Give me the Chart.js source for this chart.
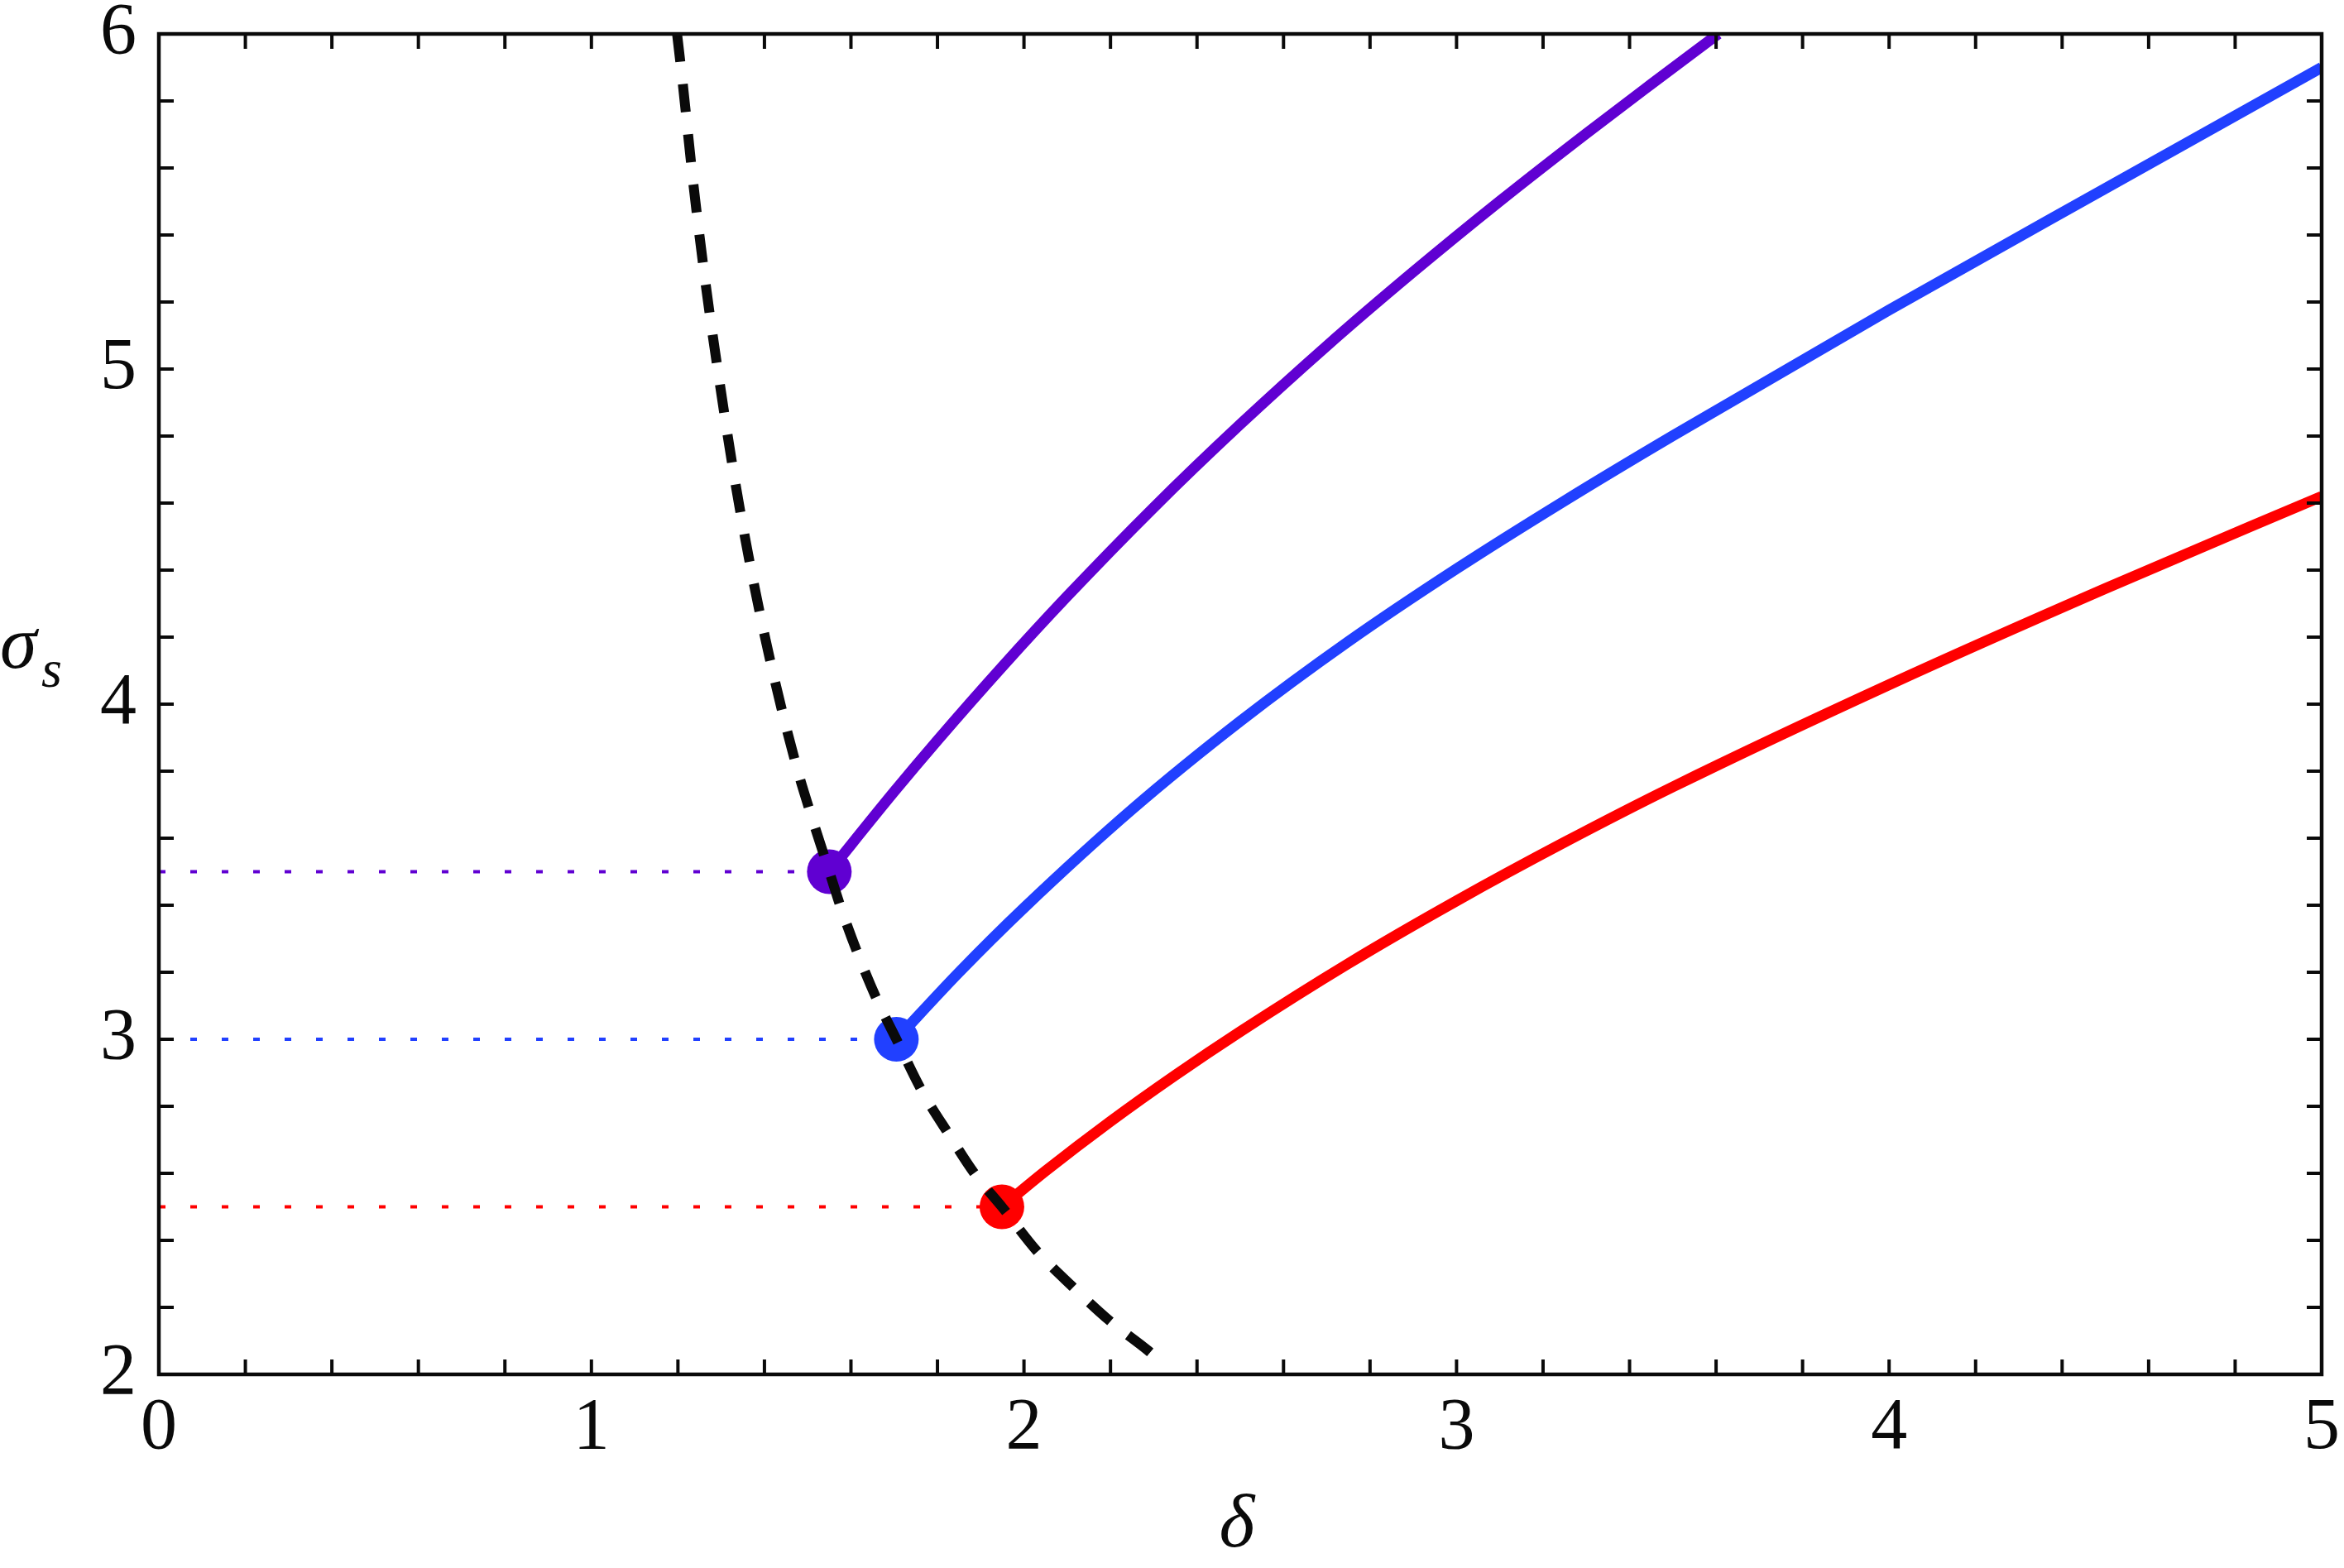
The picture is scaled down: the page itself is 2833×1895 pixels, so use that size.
<!DOCTYPE html>
<html>
<head>
<meta charset="utf-8">
<script src="https://cdn.jsdelivr.net/npm/chart.js@4/dist/chart.umd.min.js"></script>
<style>
  html, body { margin: 0; padding: 0; background: #ffffff; }
  #wrap { width: 2833px; height: 1895px; position: relative; }
</style>
</head>
<body>
<div id="wrap"><canvas id="c" width="2833" height="1895"></canvas></div>
<script>
// ---- data ----
const boundaryDelta = [1.198, 1.211, 1.235, 1.263, 1.295, 1.330, 1.371, 1.419, 1.475, 1.507, 1.550, 1.578, 1.618, 1.663, 1.705, 1.764, 1.825, 1.887, 1.949, 2.032, 2.112, 2.197, 2.287, 2.311];
const boundarySigma = [6.0, 5.854, 5.56, 5.264, 4.972, 4.681, 4.389, 4.098, 3.81, 3.673, 3.5, 3.388, 3.248, 3.11, 3.0, 2.846, 2.719, 2.597, 2.5, 2.365, 2.262, 2.161, 2.071, 2.044];

const purpleDelta = [1.55, 1.70, 1.80, 1.95, 2.10, 2.30, 2.50, 2.70, 2.90, 3.10, 3.30, 3.45, 3.605];
const purpleSigma = [3.5, 3.739, 3.892, 4.112, 4.322, 4.587, 4.835, 5.069, 5.29, 5.501, 5.703, 5.85, 6.0];

const blueDelta = [1.705, 1.85, 2.0, 2.25, 2.5, 2.75, 3.0, 3.25, 3.5, 4.0, 4.5, 5.0];
const blueSigma = [3.0, 3.20, 3.392, 3.686, 3.949, 4.187, 4.404, 4.607, 4.801, 5.176, 5.539, 5.90];

const redDelta = [1.949, 2.05, 2.2, 2.35, 2.5, 2.75, 3.0, 3.25, 3.5, 4.0, 4.5, 5.0];
const redSigma = [2.5, 2.607, 2.755, 2.893, 3.023, 3.226, 3.413, 3.588, 3.753, 4.058, 4.345, 4.62];

const criticalDelta = [1.55, 1.705, 1.949];
const criticalSigma = [3.5, 3.0, 2.5];

const xTickLabels = [0, 1, 2, 3, 4, 5];
const yTickLabels = [2, 3, 4, 5, 6];
const xMinorStep = 0.2;
const yMinorStep = 0.2;

// ---- styling ----
const PURPLE = '#6000d2';
const BLUE = '#2140ff';
const RED = '#ff0000';
const curveColors = [PURPLE, BLUE, RED];
const SERIF = '"Liberation Serif", "Times New Roman", Times, serif';

function pts(xs, ys) { return xs.map((x, i) => ({ x: x, y: ys[i] })); }

const datasets = [];
// dotted guide lines (drawn first)
criticalDelta.forEach((d, i) => {
  datasets.push({
    data: [{ x: xTickLabels[0], y: criticalSigma[i] }, { x: d, y: criticalSigma[i] }],
    showLine: true, borderColor: curveColors[i], borderWidth: 4,
    borderDash: [8, 30], pointRadius: 0, order: 4
  });
});
// coloured curves
[[purpleDelta, purpleSigma], [blueDelta, blueSigma], [redDelta, redSigma]].forEach((c, i) => {
  datasets.push({
    data: pts(c[0], c[1]), showLine: true, borderColor: curveColors[i],
    borderWidth: 13, cubicInterpolationMode: 'monotone', pointRadius: 0, order: 3
  });
});
// critical points
datasets.push({
  data: pts(criticalDelta, criticalSigma), showLine: false,
  pointRadius: 27, pointBackgroundColor: curveColors, pointBorderWidth: 0, order: 2
});
// dashed boundary on top
datasets.push({
  data: pts(boundaryDelta, boundarySigma), showLine: true, borderColor: '#0a0a0a',
  borderWidth: 12, borderDash: [34, 27], borderCapStyle: 'butt',
  cubicInterpolationMode: 'monotone', pointRadius: 0, order: 1
});

const frameTicks = {
  id: 'frameTicks',
  afterDatasetsDraw(chart) {
    const { ctx, chartArea: a, scales } = chart;
    const xs = scales.x, ys = scales.y;
    ctx.save();
    ctx.strokeStyle = '#0a0a0a';
    ctx.lineCap = 'butt';
    ctx.lineWidth = 4;
    const tl = 18;
    const nx = Math.round((xs.max - xs.min) / xMinorStep);
    for (let k = 0; k <= nx; k++) {
      const px = xs.getPixelForValue(xs.min + k * xMinorStep);
      ctx.beginPath();
      ctx.moveTo(px, a.bottom); ctx.lineTo(px, a.bottom - tl);
      ctx.moveTo(px, a.top); ctx.lineTo(px, a.top + tl);
      ctx.stroke();
    }
    const ny = Math.round((ys.max - ys.min) / yMinorStep);
    for (let k = 0; k <= ny; k++) {
      const py = ys.getPixelForValue(ys.min + k * yMinorStep);
      ctx.beginPath();
      ctx.moveTo(a.left, py); ctx.lineTo(a.left + tl, py);
      ctx.moveTo(a.right, py); ctx.lineTo(a.right - tl, py);
      ctx.stroke();
    }
    ctx.lineWidth = 4.5;
    ctx.strokeRect(a.left, a.top, a.right - a.left, a.bottom - a.top);
    // axis titles
    ctx.fillStyle = '#0a0a0a';
    ctx.textBaseline = 'alphabetic';
    ctx.textAlign = 'left';
    ctx.font = 'italic 90px ' + SERIF;
    ctx.fillText('σ', 0, 807);
    ctx.font = 'italic 64px ' + SERIF;
    ctx.fillText('s', 50, 830);
    ctx.textAlign = 'center';
    ctx.font = 'italic 92px ' + SERIF;
    ctx.fillText('δ', (a.left + a.right) / 2 - 4, 1869);
    ctx.restore();
  }
};

new Chart(document.getElementById('c'), {
  type: 'scatter',
  data: { datasets: datasets },
  options: {
    responsive: false,
    animation: false,
    devicePixelRatio: 1,
    layout: { padding: { top: 41, right: 21, left: 0, bottom: 0 } },
    plugins: { legend: { display: false }, tooltip: { enabled: false }, title: { display: false } },
    elements: { line: { borderCapStyle: 'butt' } },
    scales: {
      x: {
        type: 'linear', min: xTickLabels[0], max: xTickLabels[xTickLabels.length - 1],
        grid: { display: false, drawTicks: false },
        border: { display: false },
        ticks: {
          stepSize: 1, padding: 13, color: '#0a0a0a', maxRotation: 0,
          font: { family: SERIF, size: 88 },
          callback: (v) => xTickLabels.includes(v) ? String(v) : ''
        },
        afterFit(s) { s.height = 234; s.paddingLeft = 0; s.paddingRight = 0; s.paddingTop = 0; s.paddingBottom = 0; }
      },
      y: {
        type: 'linear', min: yTickLabels[0], max: yTickLabels[yTickLabels.length - 1],
        grid: { display: false, drawTicks: false },
        border: { display: false },
        ticks: {
          stepSize: 1, padding: 27, color: '#0a0a0a',
          font: { family: SERIF, size: 88 },
          callback: (v) => yTickLabels.includes(v) ? String(v) : ''
        },
        afterFit(s) { s.width = 192; s.paddingLeft = 0; s.paddingRight = 0; s.paddingTop = 0; s.paddingBottom = 0; }
      }
    }
  },
  plugins: [frameTicks]
});
</script>
</body>
</html>
